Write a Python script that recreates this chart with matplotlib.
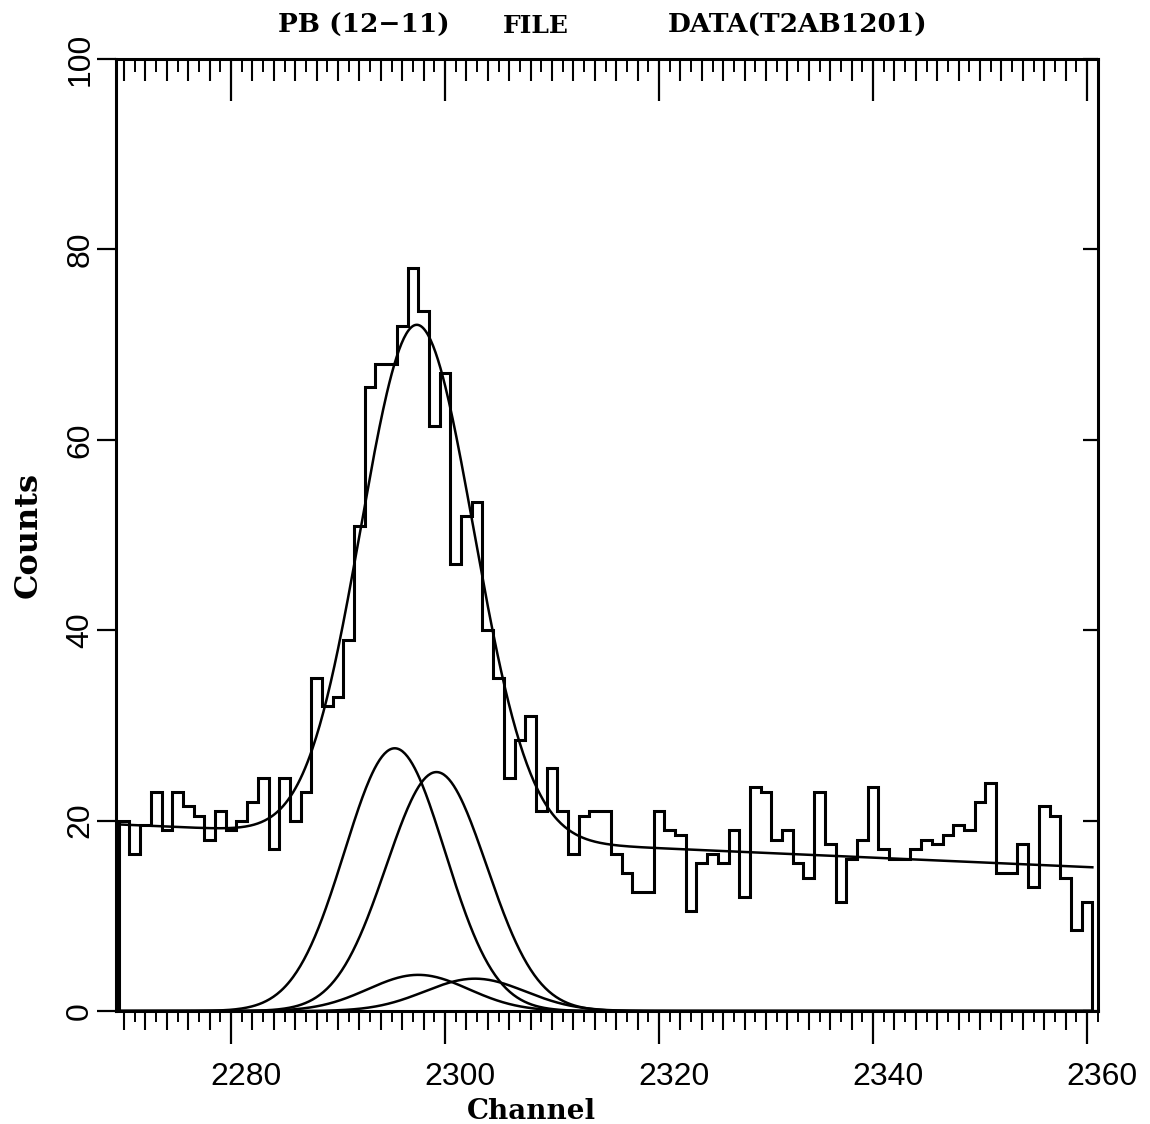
import numpy as np
import matplotlib
matplotlib.use('Agg')
import matplotlib.pyplot as plt
from matplotlib.ticker import MultipleLocator
import matplotlib.transforms as mtransforms

# spectrum, one count value per channel (2270 .. 2360)
first_channel = 2270
counts = [20, 16.5, 19.5, 23, 19, 23, 21.5, 20.5, 18, 21,        # 2270-2279
          19, 20, 22, 24.5, 17, 24.5, 20, 23, 35, 32,             # 2280-2289
          33, 39, 51, 65.5, 68, 68, 72, 78, 73.5, 61.5,           # 2290-2299
          67, 47, 52, 53.5, 40, 35, 24.5, 28.5, 31, 21,           # 2300-2309
          25.5, 21, 16.5, 20.5, 21, 21, 16.5, 14.5, 12.5, 12.5,   # 2310-2319
          21, 19, 18.5, 10.5, 15.5, 16.5, 15.5, 19, 12, 23.5,     # 2320-2329
          23, 18, 19, 15.5, 14, 23, 17.5, 11.5, 16, 18,           # 2330-2339
          23.5, 17, 16, 16, 17, 18, 17.5, 18.5, 19.5, 19,         # 2340-2349
          22, 24, 14.5, 14.5, 17.5, 13, 21.5, 20.5, 14, 8.5, 11.5]  # 2350-2360

# fitted model: linear background + four gaussian peaks
bg_start, bg_end = 19.6, 15.1
peak_centres = [2295.3, 2299.2, 2297.5, 2302.8]
peak_heights = [27.6, 25.1, 3.8, 3.4]
peak_sigmas = [4.7, 4.7, 4.7, 4.7]

channels = np.arange(first_channel, first_channel + len(counts))
edges = np.append(channels - 0.5, channels[-1] + 0.5)

x = np.linspace(edges[0], edges[-1], 800)
background = bg_start + (bg_end - bg_start) * (x - edges[0]) / (edges[-1] - edges[0])
components = [h * np.exp(-(x - c) ** 2 / (2 * s ** 2))
              for c, h, s in zip(peak_centres, peak_heights, peak_sigmas)]
total = background + np.sum(components, axis=0)

fig = plt.figure(figsize=(11.5, 11.24), dpi=100)
ax = fig.add_axes([0.1009, 0.1005, 0.8539, 0.847])

ax.stairs(counts, edges, baseline=0, color='black', lw=2.2)
ax.plot(x, total, color='black', lw=1.8)
for comp in components:
    ax.plot(x, comp, color='black', lw=1.8)

ax.set_xlim(2269.25, 2361.03)
ax.set_ylim(0, 100)

for sp in ax.spines.values():
    sp.set_linewidth(2.2)

tick_font = {'family': ['Liberation Sans', 'DejaVu Sans'], 'size': 23}

# bottom axis: long ticks every 20, medium every 2, short every 1
ax.xaxis.set_major_locator(MultipleLocator(20))
ax.xaxis.set_minor_locator(MultipleLocator(2))
ax.tick_params(axis='x', which='major', direction='out', length=24, width=1.6, pad=13)
ax.tick_params(axis='x', which='minor', direction='out', length=14, width=1.5)
for lab in ax.get_xticklabels():
    lab.set_fontproperties(tick_font)
    lab.set_transform(lab.get_transform() +
                      mtransforms.ScaledTranslation(0.15, 0, fig.dpi_scale_trans))

bot1 = ax.secondary_xaxis('bottom')
bot1.xaxis.set_major_locator(MultipleLocator(1))
bot1.tick_params(direction='out', length=8, width=1.4, labelbottom=False)
bot1.spines['bottom'].set_visible(False)

# top axis: same pattern pointing into the frame
top = ax.secondary_xaxis('top')
top.xaxis.set_major_locator(MultipleLocator(20))
top.xaxis.set_minor_locator(MultipleLocator(2))
top.tick_params(which='major', direction='in', length=30, width=1.6, labeltop=False)
top.tick_params(which='minor', direction='in', length=16, width=1.5)
top.spines['top'].set_visible(False)
top1 = ax.secondary_xaxis('top')
top1.xaxis.set_major_locator(MultipleLocator(1))
top1.tick_params(direction='in', length=9, width=1.4, labeltop=False)
top1.spines['top'].set_visible(False)

# left axis
ax.yaxis.set_major_locator(MultipleLocator(20))
ax.tick_params(axis='y', which='major', direction='out', length=14, width=1.6, pad=1)
for lab in ax.get_yticklabels():
    lab.set_fontproperties(tick_font)
    lab.set_rotation(90)
    lab.set_va('center')

right = ax.secondary_yaxis('right')
right.yaxis.set_major_locator(MultipleLocator(20))
right.tick_params(direction='in', length=11, width=1.6, labelright=False)
right.spines['right'].set_visible(False)

W, H = 1150, 1124
serif = {'family': 'DejaVu Serif'}
title_y = 1 - 33 / H
fig.text(278 / W, title_y, 'PB (12\u221211)', ha='left', va='baseline',
         fontsize=19, weight='bold', **serif)
fig.text(503 / W, title_y, 'FILE', ha='left', va='baseline',
         fontsize=18, weight='bold', **serif)
fig.text(668 / W, title_y, 'DATA(T2AB1201)', ha='left', va='baseline',
         fontsize=19, weight='bold', **serif)

fig.text(531 / W, 1 - 1119 / H, 'Channel', ha='center', va='baseline',
         fontsize=20, weight='bold', **serif)
fig.text(37 / W, 1 - 535 / H, 'Counts', ha='center', va='baseline', rotation=90,
         rotation_mode='anchor', fontsize=23, weight='bold', **serif)

fig.savefig('out.png', dpi=100, facecolor='white')
